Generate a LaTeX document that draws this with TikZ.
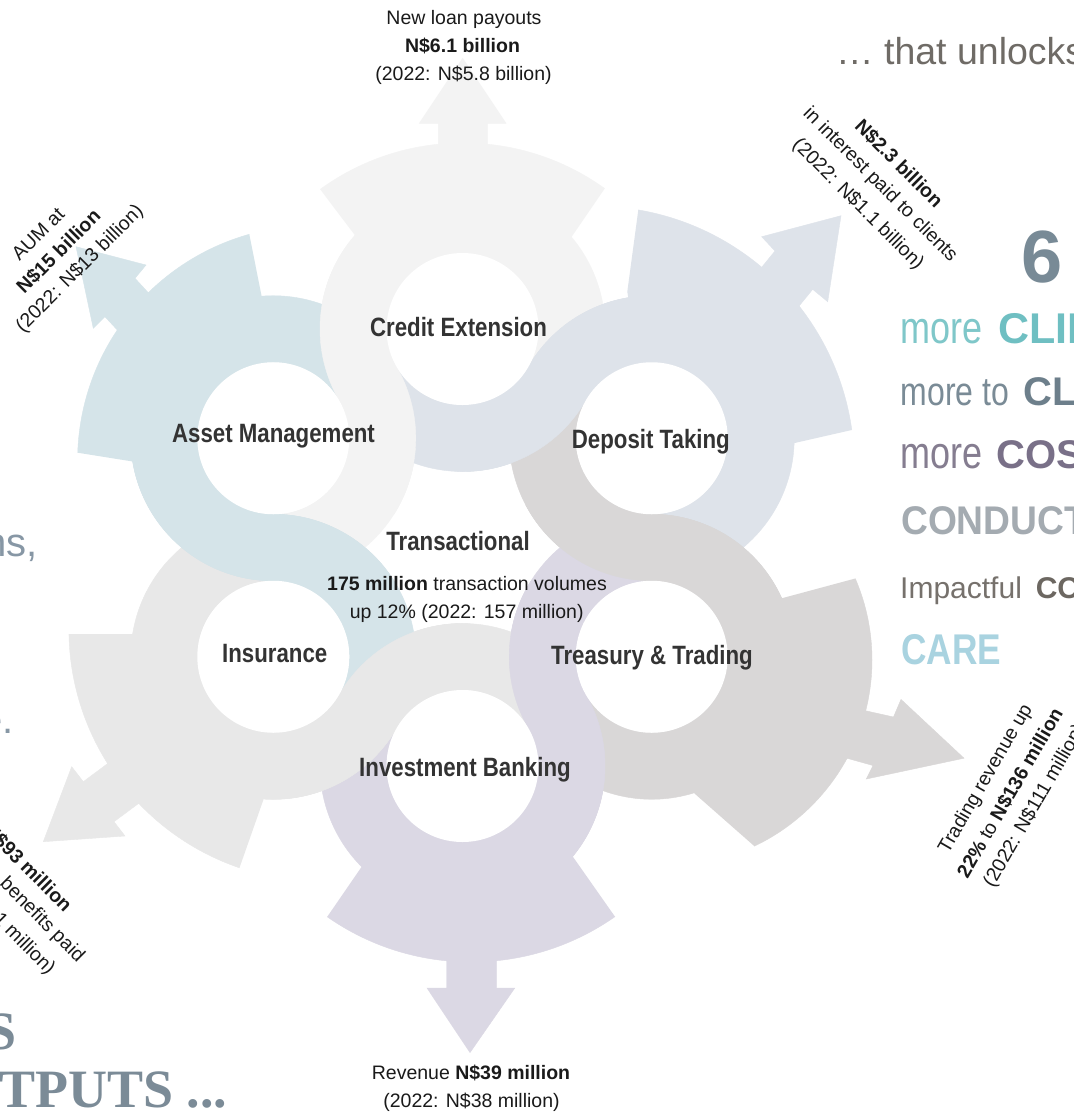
\documentclass[tikz,border=0pt]{standalone}
\usepackage{fontspec}
\setmainfont{Liberation Sans}
\newfontfamily\headserif{Liberation Serif}
\usetikzlibrary{calc}

% band colours
\definecolor{ceC}{HTML}{F3F3F3}
\definecolor{dtC}{HTML}{DEE3EA}
\definecolor{ttC}{HTML}{D9D7D7}
\definecolor{ibC}{HTML}{DBD8E4}
\definecolor{inC}{HTML}{E8E8E8}
\definecolor{amC}{HTML}{D5E4E9}
% text colours
\definecolor{labelC}{HTML}{333333}
\definecolor{ink}{HTML}{1A1A1A}
\definecolor{leadC}{HTML}{6F6B66}
\definecolor{sixC}{HTML}{788A96}
\definecolor{tealL}{HTML}{7FC7C9}
\definecolor{tealB}{HTML}{6FBFC2}
\definecolor{slateL}{HTML}{7A8B96}
\definecolor{slateB}{HTML}{6D7F8B}
\definecolor{mauveL}{HTML}{857D90}
\definecolor{mauveB}{HTML}{797088}
\definecolor{condC}{HTML}{A4ABB1}
\definecolor{warmL}{HTML}{76716C}
\definecolor{warmB}{HTML}{6C6761}
\definecolor{careC}{HTML}{A9D3E0}
\definecolor{sideC}{HTML}{8797A5}
\definecolor{capsC}{HTML}{7B8B97}

\newcommand\ringout{142.5}
\newcommand\ringin{76}

\tikzset{
  band/.style={fill=#1,draw=#1,line width=0.4pt},
  glabel/.style={font=\fontsize{26.5}{30}\selectfont\bfseries,text=labelC,xscale=0.84,anchor=base,inner sep=0pt},
  fact/.style={font=\fontsize{19.5}{24}\selectfont,text=ink,inner sep=0pt},
  side/.style={inner sep=0pt,anchor=base west},
}

% annular sector of a wheel: centre, start angle, end angle, colour
\newcommand\ringpart[4]{%
  \path[band=#4] ($(#1)+(#2:\ringout)$) arc[start angle=#2,end angle=#3,radius=\ringout]
    -- ($(#1)+(#3:\ringin)$) arc[start angle=#3,end angle=#2,radius=\ringin] -- cycle;}

% flared tooth: centre, inner a, outer a, outer b, inner b, arc centre, arc radius, colour
\newcommand\gtooth[8]{%
  \begin{scope}
    \clip (#1) -- #2 -- ($#2!3!#3$) -- ($#5!3!#4$) -- #5 -- cycle;
    \path[band=#8] #6 circle[radius=#7];
  \end{scope}}

\begin{document}
\begin{tikzpicture}[x=1pt,y=-1pt]
\useasboundingbox (0,0) rectangle (1074,1112);
\fill[white] (0,0) rectangle (1074,1112);

\coordinate (CE) at (462.5,329);
\coordinate (DT) at (651.7,438.25);
\coordinate (TT) at (651.7,656.75);
\coordinate (IB) at (462.5,766);
\coordinate (IN) at (273.3,656.75);
\coordinate (AM) at (273.3,438.25);

% ---- Credit Extension band
\ringpart{CE}{30}{-210}{ceC}
\ringpart{AM}{-270}{-390}{ceC}
\gtooth{CE}{(356,236.7)}{(320.7,190)}{(608.3,183.3)}{(571.7,236.7)}{(463,386)}{243}{ceC}
\path[band=ceC] (438.3,170) -- (438.3,123.3) -- (419.3,123.3) -- (462.7,58.3) -- (506,123.3) -- (487.3,123.3) -- (487.3,170) -- cycle;

% ---- Deposit Taking band
\ringpart{DT}{90}{-150}{dtC}
\ringpart{CE}{-210}{-330}{dtC}
\gtooth{DT}{(627.3,291.7)}{(638.3,210)}{(851.7,430)}{(793.3,443.3)}{(594.3,466.2)}{260}{dtC}
\path[band=dtC] (735,300) -- (775,251) -- (761.7,236.7) -- (841,215.7) -- (827.7,301.7) -- (812.7,289.3) -- (772.7,338.3) -- cycle;

% ---- Treasury & Trading band
\ringpart{TT}{150}{-90}{ttC}
\ringpart{DT}{-150}{-270}{ttC}
\gtooth{TT}{(781.7,598.3)}{(856,578.3)}{(755,846.7)}{(694.3,793.3)}{(666,660)}{206}{ttC}
\path[band=ttC] (823,701.25) -- (893.5,717) -- (901,699.4) -- (964,758.2) -- (866.3,779) -- (873,765.5) -- (804.25,746.25) -- cycle;

% ---- Investment Banking band
\ringpart{IB}{210}{-30}{ibC}
\ringpart{TT}{-90}{-210}{ibC}
\gtooth{IB}{(573.3,857.3)}{(615,916.7)}{(327.3,916.7)}{(361.7,866.7)}{(471,711)}{251}{ibC}
\path[band=ibC] (446.7,930) -- (446.7,988) -- (427,988) -- (470,1052.6) -- (514.8,988) -- (496.7,988) -- (496.7,930) -- cycle;

% ---- Insurance band
\ringpart{IN}{-90}{-330}{inC}
\ringpart{IB}{-30}{-150}{inC}
\gtooth{IN}{(263.3,800)}{(239.3,868.3)}{(70,634)}{(134,634)}{(320.9,629.25)}{252}{inC}
\path[band=inC] (139.3,740) -- (83.3,781.7) -- (71.7,766.7) -- (43.3,841.7) -- (125,836) -- (114,821.7) -- (170,780) -- cycle;

% ---- Asset Management band
\ringpart{AM}{-30}{-270}{amC}
\ringpart{IN}{-330}{-450}{amC}
\gtooth{AM}{(134,461.7)}{(77.7,452.7)}{(249.3,234.3)}{(261.7,296.7)}{(312.8,460.8)}{235.2}{amC}
\path[band=amC] (142,356.7) -- (105,316.7) -- (93.3,328.3) -- (76,246.7) -- (146,265) -- (135,278.3) -- (172,318.5) -- cycle;

% ---- crossings: each band passes over at the joint where it changes wheel
\ringpart{CE}{-90}{-211}{ceC}  \ringpart{AM}{-328}{-391}{ceC}
\ringpart{DT}{-30}{-151}{dtC}  \ringpart{CE}{-268}{-331}{dtC}
\ringpart{TT}{30}{-91}{ttC}    \ringpart{DT}{-208}{-271}{ttC}
\ringpart{IB}{90}{-31}{ibC}    \ringpart{TT}{-148}{-211}{ibC}
\ringpart{IN}{-210}{-331}{inC} \ringpart{IB}{-88}{-151}{inC}
\ringpart{AM}{-150}{-271}{amC} \ringpart{IN}{-28}{-91}{amC}

% wheel hubs
\foreach \g in {CE,DT,TT,IB,IN,AM} \fill[white] (\g) circle[radius=\ringin];

% ---- wheel labels
\node[glabel] (lblCE) at (458.5,336.7) {Credit Extension};
\node[glabel] (lblAM) at (273.5,442.9) {Asset Management};
\node[glabel] (lblDT) at (650.8,448.3) {Deposit Taking};
\node[glabel] (lblTT) at (652,664.3) {Treasury \& Trading};
\node[glabel] (lblIB) at (465,776) {Investment Banking};
\node[glabel] (lblIN) at (274.7,662.7) {Insurance};
\node[glabel] (lblTR) at (458,550.7) {Transactional};

% ---- facts
\node[fact,anchor=base] (tr1) at (467,590) {\textbf{175 million} transaction volumes};
\node[fact,anchor=base] (tr2) at (466.7,618.3) {up 12\% (2022: 157 million)};

\node[fact,anchor=base] (loan1) at (464,24.3) {New loan payouts};
\node[fact,anchor=base] (loan2) at (462.5,52.5) {\textbf{N\$6.1 billion}};
\node[fact,anchor=base] (loan3) at (463.5,80) {(2022: N\$5.8 billion)};

\node[fact,anchor=base] (rev1) at (471,1079) {Revenue \textbf{N\$39 million}};
\node[fact,anchor=base] (rev2) at (471.5,1107) {(2022: N\$38 million)};

\node[fact,rotate=45] (aum1) at (38,234) {AUM at};
\node[fact,rotate=45] (aum2) at (58.5,251.5) {\textbf{N\$15 billion}};
\node[fact,rotate=45] (aum3) at (80,269) {(2022: N\$13 billion)};

\node[fact,rotate=-45] (int1) at (899,163.5) {\textbf{N\$2.3 billion}};
\node[fact,rotate=-45] (int2) at (880,185) {in interest paid to clients};
\node[fact,rotate=-45] (int3) at (858,204.5) {(2022: N\$1.1 billion)};

\node[fact,rotate=60] (trd1) at (986,779) {Trading revenue up};
\node[fact,rotate=60] (trd2) at (1010,793) {\textbf{22\%} to \textbf{N\$136 million}};
\node[fact,rotate=60] (trd3) at (1035,806) {(2022: N\$111 million)};

\node[fact,rotate=-45,anchor=east] (ins1) at (68.9,908.5) {\textbf{N\$93 million}};
\node[fact,rotate=-45,anchor=east] (ins2) at (81,959.6) {benefits paid};
\node[fact,rotate=-45,anchor=east] (ins3) at (51.7,972) {(2022: N\$91 million)};

% ---- right-hand column
\node[side,font=\fontsize{37.5}{40}\selectfont,text=leadC] (lead) at (836,64.3) {\dots\ that unlocks};
\node[side,font=\fontsize{74}{80}\selectfont\bfseries,text=sixC] (six) at (1021,282) {6};
\node[side,font=\fontsize{45}{50}\selectfont,text=tealL,xscale=0.8] (r1a) at (900.7,343) {more};
\node[side,font=\fontsize{43}{50}\selectfont\bfseries,text=tealB] (r1b) at (998,343) {CLIE};
\node[side,font=\fontsize{40}{46}\selectfont,text=slateL,xscale=0.8] (r2a) at (900.7,405.5) {more to};
\node[side,font=\fontsize{40}{46}\selectfont\bfseries,text=slateB] (r2b) at (1023,405.5) {CL};
\node[side,font=\fontsize{45}{50}\selectfont,text=mauveL,xscale=0.8] (r3a) at (900.7,468) {more};
\node[side,font=\fontsize{40}{46}\selectfont\bfseries,text=mauveB] (r3b) at (996.4,468) {COS};
\node[side,font=\fontsize{40}{46}\selectfont\bfseries,text=condC,xscale=0.93] (r4) at (901,534) {CONDUCT};
\node[side,font=\fontsize{30}{36}\selectfont,text=warmL] (r5a) at (900,598.4) {Impactful};
\node[side,font=\fontsize{30}{36}\selectfont\bfseries,text=warmB] (r5b) at (1035.6,598.4) {CO};
\node[side,font=\fontsize{43}{48}\selectfont\bfseries,text=careC,xscale=0.82] (r6) at (901,664) {CARE};

% ---- left-hand column ends
\node[inner sep=0pt,anchor=base east,font=\fontsize{40}{46}\selectfont,text=sideC] (l1) at (38,556) {ns,};
\node[inner sep=0pt,anchor=base east,font=\fontsize{40}{46}\selectfont,text=sideC] (l2) at (14,733) {e.};
\node[inner sep=0pt,anchor=base east,font=\headserif\fontsize{54}{60}\selectfont\bfseries,text=capsC] (l3) at (17,1049) {S};
\node[side,font=\headserif\fontsize{54}{60}\selectfont\bfseries,text=capsC] (l4) at (-1,1107) {TPUTS ...};
\end{tikzpicture}
\end{document}
